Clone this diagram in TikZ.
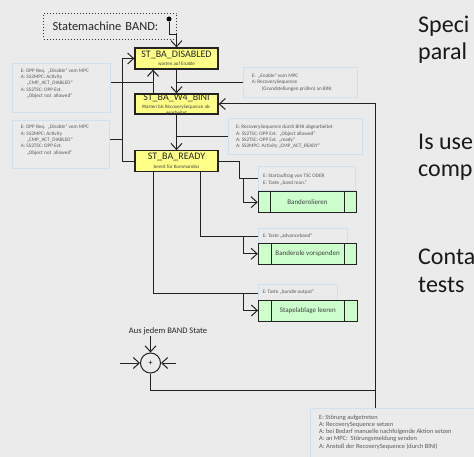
\documentclass[tikz,border=0pt]{standalone}
\usepackage{fontspec}
\setmainfont{Carlito}
\usepackage{tikz}
\usetikzlibrary{arrows.meta}
\usetikzlibrary{positioning}
\usetikzlibrary{shapes}

\definecolor{bg}{HTML}{EBEBEB}
\definecolor{stateyellow}{HTML}{FFFF88}
\definecolor{taskgreen}{HTML}{CCFFCC}
\definecolor{noteblue}{HTML}{CFE0EE}
\definecolor{linegray}{HTML}{222222}

\tikzstyle{titlebox} = [rectangle, draw=black!80, dotted, line width=1pt, anchor=north west, minimum width=133pt, minimum height=26pt, text width=115pt, inner xsep=9pt, align=left, font=\fontsize{12.4}{14}\selectfont, text=black!85]
\tikzstyle{initdot} = [circle, fill=black, minimum size=5pt, inner sep=0pt]
\tikzstyle{state} = [rectangle, draw=linegray, line width=1.3pt, fill=stateyellow, minimum width=83pt, minimum height=21pt, inner sep=0pt]
\tikzstyle{statename} = [inner sep=0pt, font=\fontsize{10}{12}\selectfont, text=black!85]
\tikzstyle{statesub} = [inner sep=0pt, align=center, font=\fontsize{5}{6.6}\selectfont, text=black!75]
\tikzstyle{task} = [rectangle, draw=linegray, line width=1pt, fill=taskgreen, minimum width=98.5pt, minimum height=21pt, inner sep=0pt, font=\fontsize{7}{8}\selectfont, text=black!75,
  path picture={\draw[linegray, line width=1pt] ([xshift=12.7pt]path picture bounding box.north west) -- ([xshift=12.7pt]path picture bounding box.south west) ([xshift=-12.7pt]path picture bounding box.north east) -- ([xshift=-12.7pt]path picture bounding box.south east);}]
\tikzstyle{note} = [rectangle, draw=noteblue, line width=0.8pt, fill=bg, anchor=north west, inner sep=0pt]
\tikzstyle{notetext} = [inner sep=0pt, align=left, anchor=north west, font=\fontsize{5.2}{6.4}\selectfont, text=black!65]
\tikzstyle{junction} = [circle, draw=linegray, line width=1pt, minimum size=20pt, inner sep=0pt, font=\fontsize{8}{8}\selectfont]
\tikzstyle{side} = [anchor=base west, inner sep=0pt, font=\fontsize{24}{27}\selectfont, text=black!90]
\tikzstyle{link} = [line width=1pt, draw=linegray]
\tikzstyle{arrow} = [line width=1pt, draw=linegray, -{Straight Barb[length=6pt,width=11pt]}]

\begin{document}
\begin{tikzpicture}[x=1pt,y=-1pt]
\fill[bg] (0,0) rectangle (474,457);
\useasboundingbox (0,0) rectangle (474,457);

\node[titlebox] (title) at (43,13) {Statemachine BAND:};
\node[initdot] (init) at (169,19) {};

% notes
\node[note, minimum width=98.3pt, minimum height=48.4pt] (n1) at (11.7,63.3) {};
\node[notetext, below right=4.9pt and 9pt of n1.north west] (n1-t) {E: OPP Req.\ \ „Disable“ vom MPC\\A: SS2MPC: Activity\\\hspace*{6pt}„CMP\_ACT\_DIABLED“\\A: SS2TSC: OPP Evt.\\\hspace*{6pt}„Object not\ \ allowed“};
\node[note, minimum width=97.6pt, minimum height=48.3pt] (n2) at (11.7,120) {};
\node[notetext, below right=4.8pt and 9pt of n2.north west] (n2-t) {E: OPP Req.\ \ „Disable“ vom MPC\\A: SS2MPC: Activity\\\hspace*{6pt}„CMP\_ACT\_DIABLED“\\A: SS2TSC: OPP Evt.\\\hspace*{6pt}„Object not\ \ allowed“};
\node[note, minimum width=114pt, minimum height=30pt] (nr1) at (243.3,67) {};
\node[notetext, below right=6.5pt and 8.4pt of nr1.north west] (nr1-t) {E:\ \ „Enable“ vom MPC\\A: RecoverySequence\\\hspace*{10pt}(Grundstellungen prüfen) an BINI};
\node[note, minimum width=134.6pt, minimum height=36pt] (nr2) at (227.7,118) {};
\node[notetext, below right=6.8pt and 8.3pt of nr2.north west] (nr2-t) {E: RecoverySequence durch BINI abgearbeitet\\A: SS2TSC: OPP Evt.\ \ „Object allowed“\\A: SS2TSC: OPP Evt. „ready“\\A: SS2MPC: Activity „CMP\_ACT\_READY“};
\node[note, minimum width=96.7pt, minimum height=24pt] (ng1) at (258.3,166) {};
\node[notetext, below right=8.2pt and 4.7pt of ng1.north west] (ng1-t) {E: Startauftrag von TSC ODER\\E: Taste „band man.“};
\node[note, minimum width=88.4pt, minimum height=15.5pt] (ng2) at (258.3,228.3) {};
\node[notetext, below right=5.2pt and 4.4pt of ng2.north west] (ng2-t) {E: Taste „advanceband“};
\node[note, minimum width=79pt, minimum height=17.4pt] (ng3) at (258.3,284.3) {};
\node[notetext, below right=5.5pt and 4pt of ng3.north west] (ng3-t) {E: Taste „bundle output“};
\node[note, minimum width=170pt, minimum height=55pt] (nbot) at (310,408) {};
\node[notetext, font=\fontsize{6.4}{7.3}\selectfont, below right=6.5pt and 9pt of nbot.north west] (nbot-t) {E: Störung aufgetreten\\A: RecoverySequence setzen\\A: bei Bedarf manuelle nachfolgende Aktion setzen\\A: an MPC:\ \ Störungsmeldung senden\\A: Anstoß der RecoverySequence (durch BINI)};

% states
\node[state] (dis) at (176.5,58.5) {};
\node[statename] (dis-n) at ([yshift=3.5pt]dis.center) {ST\_BA\_DISABLED};
\node[statesub] (dis-s) at ([yshift=-5.5pt]dis.center) {warten auf Enable};
\node[state, minimum height=20pt] (bini) at (176.5,104) {};
\node[statename] (bini-n) at ([yshift=5.7pt]bini.center) {ST\_BA\_W4\_BINI};
\node[statesub] (bini-s) at ([yshift=-6pt]bini.center) {Warten bis RecoverySequence ab-\\gearbeitet};
\node[state] (rdy) at (176.5,161.3) {};
\node[statename] (rdy-n) at ([yshift=4pt]rdy.center) {ST\_BA\_READY};
\node[statesub] (rdy-s) at ([yshift=-5.7pt]rdy.center) {bereit für Kommandos};

% tasks
\node[task] (g1) at (307.5,202.2) {Banderolieren};
\node[task] (g2) at (307.6,253.8) {Banderole vorspenden};
\node[task] (g3) at (307.8,310.5) {Stapelablage leeren};

% junction
\node[junction] (jn) at (150.5,363) {+};
\node[inner sep=1pt, font=\fontsize{8.5}{9}\selectfont, text=black!85] (src) at (168,331) {Aus jedem BAND State};

\node[side] (s1) at (418,33) {Speci};
\node[side] (s2) at (418,60) {paral};
\node[side] (s3) at (418,150) {Is use};
\node[side] (s4) at (418,177) {comp};
\node[side] (s5) at (418,265) {Conta};
\node[side] (s6) at (418,292) {tests};

\coordinate (bk) at (153,0);
\coordinate (lft) at (122.3,0);
\coordinate (c1) at (239,0);
\coordinate (c2) at (200,0);
\coordinate (c3) at (153.3,0);
\coordinate (br) at (243.3,0);
\coordinate (rail) at (375.7,390.7);
\coordinate (jl) at (120,363);
\coordinate (jr) at (175.7,363);

\draw[arrow] (init) -- ++(0,16) -| (dis);
\draw[arrow] (dis) -- (bini);
\draw[link] (nr1.west) -- (nr1.west -| dis);
\draw[arrow] (bini.north -| bk) -- (dis.south -| bk);
\draw[link] (n1.east |- nr1.west) -- (bk |- nr1.west);
\draw[arrow] (bini) -- (rdy);
\draw[link] (nr2.west) -- (nr2.west -| bini);
\draw[arrow] (rdy.west) -- (rdy.west -| lft) -- (lft |- dis.west) -- (dis.west);
\draw[link] ([yshift=5pt]n2.east) -- ([yshift=5pt]n2.east -| lft);

\draw[link] (rdy.east) -| (c1 |- ng1.west) -- (ng1.west);
\draw[arrow] (br |- ng1.west) |- (g1.west);
\draw[link] (c2 |- rdy.south) |- (ng2.west);
\draw[arrow] (br |- ng2.west) |- (g2.west);
\draw[link] (c3 |- rdy.south) |- (ng3.west);
\draw[arrow] (br |- ng3.west) |- (g3.west);

\draw[arrow] (jn.north |- src.south) -- (jn.north);
\draw[arrow] (jl) -- (jn.west);
\draw[arrow] (jr) -- (jn.east);
\draw[arrow] (jn.south) |- (rail) -- (rail |- bini.east) -- (bini.east);
\draw[link] (rail) -- (rail |- nbot.north);
\end{tikzpicture}
\end{document}
